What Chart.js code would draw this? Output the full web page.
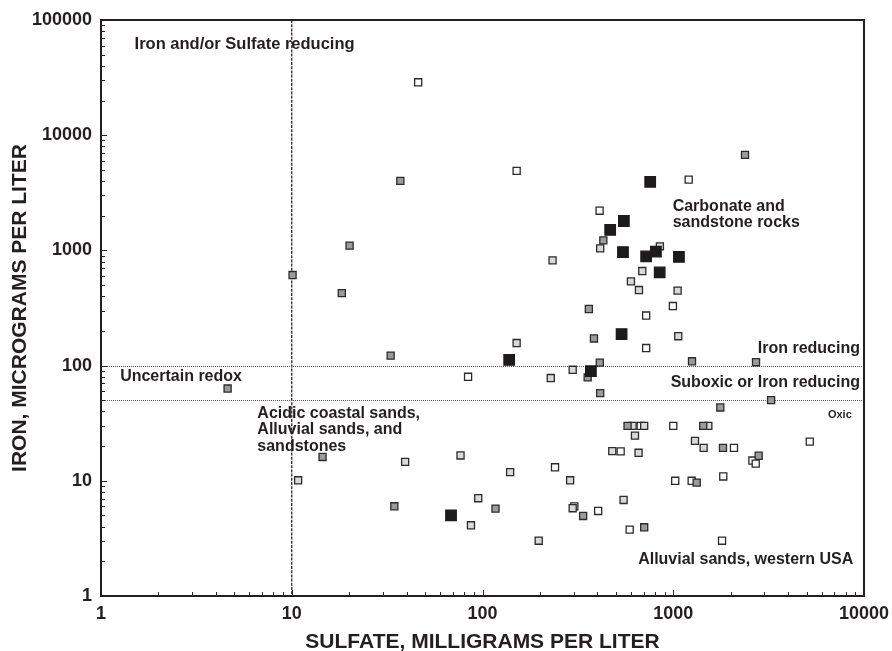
<!DOCTYPE html>
<html><head><meta charset="utf-8">
<script src="https://cdn.jsdelivr.net/npm/chart.js@4.4.0/dist/chart.umd.min.js"></script>
<style>html,body{margin:0;padding:0;background:#fff}#wrap{width:892px;height:651px}</style>
</head><body><div id="wrap"><canvas id="c" width="892" height="651"></canvas></div>
<script>
// Tick labels
const xTicks = [1, 10, 100, 1000, 10000];
const yTicks = [1, 10, 100, 1000, 10000, 100000];

// Series: sulfate (mg/L) and iron (ug/L)
const whiteSulfate = [46, 151, 1205, 411, 996, 721, 721, 84, 675, 1000, 2081, 5197, 530, 2600, 2706, 1024, 1249, 1829, 240, 303, 404, 591, 1802];
const whiteIron    = [28800, 4900, 4110, 2210, 329, 272, 142, 80, 30, 30, 19.3, 21.9, 18, 15, 14.1, 10, 10, 10.9, 13.1, 6.0, 5.47, 3.77, 3.02];

const lightSulfate = [233, 414, 851, 688, 600, 661, 1054, 151, 1062, 297, 228, 612, 704, 1527, 630, 1300, 1443, 479, 658, 39.3, 76.7, 139.6, 288, 10.8, 95, 87, 297, 549, 197];
const lightIron    = [819, 1040, 1084, 662, 538, 453, 447, 157, 180, 92, 78, 30, 30, 30, 24.7, 22.2, 19.3, 18.1, 17.5, 14.6, 16.6, 11.9, 10.1, 10.1, 7.06, 4.11, 5.78, 6.82, 3.02];

const darkSulfate = [37.1, 20.1, 10.1, 18.3, 361, 384, 33, 430, 412, 1254, 2716, 356, 2378, 414, 3258, 1765, 576, 1436, 1823, 2805, 1327, 337, 704, 4.61, 14.5, 117, 34.5];
const darkIron    = [4010, 1100, 611, 426, 310, 172, 122, 1222, 106, 109, 107, 79, 6745, 57.7, 50.2, 43.3, 30, 30, 19.3, 16.5, 9.65, 4.95, 3.95, 63.2, 16.1, 5.74, 6.01];

const blackSulfate = [757, 551, 467, 545, 721, 811, 1071, 849, 536, 138, 370, 68.4];
const blackIron    = [3930, 1800, 1504, 968, 887, 975, 877, 644, 188, 112, 89.6, 5.02];

// Reference lines
const sulfateLine = 10;
const ironLines = [100, 50];

// Annotations (text, anchor in data units)
const notes = [
  {text: ['Iron and/or Sulfate reducing'], x: 1.5, y: 61000, align: 'left', size: 16.5},
  {text: ['Carbonate and', 'sandstone rocks'], x: 993, y: 2410, align: 'left', size: 16},
  {text: ['Iron reducing'], x: 9530, y: 141, align: 'right', size: 16},
  {text: ['Suboxic or Iron reducing'], x: 9530, y: 70.5, align: 'right', size: 16},
  {text: ['Oxic'], x: 8630, y: 37.4, align: 'right', size: 11},
  {text: ['Uncertain redox'], x: 1.26, y: 80.4, align: 'left', size: 16},
  {text: ['Acidic coastal sands,', 'Alluvial sands, and', 'sandstones'], x: 6.6, y: 38.7, align: 'left', size: 16},
  {text: ['Alluvial sands, western USA'], x: 8790, y: 2.05, align: 'right', size: 16}
];

const INK = '#231f20';
const FONT = '"Liberation Sans", Arial, Helvetica, sans-serif';

function pts(xs, ys) { return xs.map((v, i) => ({x: v, y: ys[i]})); }

const overlay = {
  id: 'overlay',
  beforeDatasetsDraw(chart) {
    const {ctx, chartArea: a, scales: {x, y}} = chart;
    ctx.save();
    // vertical dashed line
    ctx.strokeStyle = '#2a2a2a';
    ctx.lineWidth = 1.3;
    ctx.setLineDash([3, 1.2]);
    const vx = x.getPixelForValue(sulfateLine);
    ctx.beginPath(); ctx.moveTo(vx, a.top); ctx.lineTo(vx, a.bottom); ctx.stroke();
    // horizontal dotted lines
    ctx.strokeStyle = '#555';
    ctx.lineWidth = 1;
    ctx.setLineDash([1, 1]);
    ironLines.forEach(v => {
      const py = Math.round(y.getPixelForValue(v)) + 0.5;
      ctx.beginPath(); ctx.moveTo(a.left, py); ctx.lineTo(a.right, py); ctx.stroke();
    });
    ctx.setLineDash([]);
    // annotations
    ctx.fillStyle = INK;
    ctx.textBaseline = 'middle';
    notes.forEach(n => {
      ctx.font = 'bold ' + n.size + 'px ' + FONT;
      ctx.textAlign = n.align;
      const px = x.getPixelForValue(n.x);
      const py = y.getPixelForValue(n.y);
      n.text.forEach((t, i) => ctx.fillText(t, px, py + i * 16.5));
    });
    ctx.restore();
  },
  afterDatasetsDraw(chart) {
    const {ctx, chartArea: a, scales: {x, y}} = chart;
    ctx.save();
    ctx.strokeStyle = INK;
    ctx.lineWidth = 1;
    // x ticks (inward from bottom)
    for (let d = 1; d < 10000; d *= 10) {
      for (let m = 1; m < 10; m++) {
        const v = d * m;
        const px = Math.round(x.getPixelForValue(v)) + 0.5;
        const len = m === 1 ? 6 : 4;
        ctx.beginPath(); ctx.moveTo(px, a.bottom); ctx.lineTo(px, a.bottom - len); ctx.stroke();
      }
    }
    // y ticks (inward from left)
    for (let d = 1; d < 100000; d *= 10) {
      for (let m = 1; m < 10; m++) {
        const v = d * m;
        const py = Math.round(y.getPixelForValue(v)) + 0.5;
        const len = m === 1 ? 6 : 4;
        ctx.beginPath(); ctx.moveTo(a.left, py); ctx.lineTo(a.left + len, py); ctx.stroke();
      }
    }
    // frame
    ctx.lineWidth = 2;
    ctx.strokeRect(a.left, a.top, a.right - a.left, a.bottom - a.top);
    ctx.restore();
  }
};

const square = (bg, r) => ({
  pointStyle: 'rect', pointRadius: r, pointHoverRadius: r,
  backgroundColor: bg, borderColor: '#2b2b2b', borderWidth: 1.3,
  showLine: false
});

new Chart(document.getElementById('c'), {
  type: 'scatter',
  data: {
    datasets: [
      Object.assign({label: 'Carbonate and sandstone rocks', data: pts(blackSulfate, blackIron)}, square('#1e1b1c', 7.4), {borderColor: '#1e1b1c'}),
      Object.assign({label: 'Dark gray', data: pts(darkSulfate, darkIron)}, square('#9b9b9b', 5)),
      Object.assign({label: 'Light gray', data: pts(lightSulfate, lightIron)}, square('#d9d9d9', 5)),
      Object.assign({label: 'White', data: pts(whiteSulfate, whiteIron)}, square('#ffffff', 5))
    ]
  },
  options: {
    responsive: false,
    animation: false,
    devicePixelRatio: 1,
    layout: {padding: {top: 20, right: 28, left: 0, bottom: 0}},
    plugins: {legend: {display: false}, tooltip: {enabled: false}},
    scales: {
      x: {
        type: 'logarithmic', position: 'bottom', min: 1, max: 10000,
        grid: {display: false, drawTicks: false}, border: {display: false},
        afterBuildTicks: s => { s.ticks = xTicks.map(v => ({value: v})); },
        afterFit: s => { s.height = 55; s.paddingLeft = 0; s.paddingRight = 0; },
        ticks: {autoSkip: false, maxRotation: 0, padding: 7, color: INK,
          font: {family: FONT, size: 18, weight: 'bold'}, callback: v => String(v)},
        title: {display: true, text: 'SULFATE, MILLIGRAMS PER LITER', color: INK,
          font: {family: FONT, size: 21, weight: 'bold', lineHeight: 1}, padding: {top: 0, bottom: -2}}
      },
      y: {
        type: 'logarithmic', position: 'left', min: 1, max: 100000,
        grid: {display: false, drawTicks: false}, border: {display: false},
        afterBuildTicks: s => { s.ticks = yTicks.map(v => ({value: v})); },
        afterFit: s => { s.width = 101; s.paddingTop = 0; s.paddingBottom = 0; },
        ticks: {autoSkip: false, padding: 9, color: INK,
          font: {family: FONT, size: 18, weight: 'bold'}, callback: v => String(v)},
        title: {display: true, text: 'IRON, MICROGRAMS PER LITER', color: INK,
          font: {family: FONT, size: 21, weight: 'bold', lineHeight: 1}, padding: {top: 10, bottom: 0}}
      }
    }
  },
  plugins: [overlay]
});
</script>
</body></html>
